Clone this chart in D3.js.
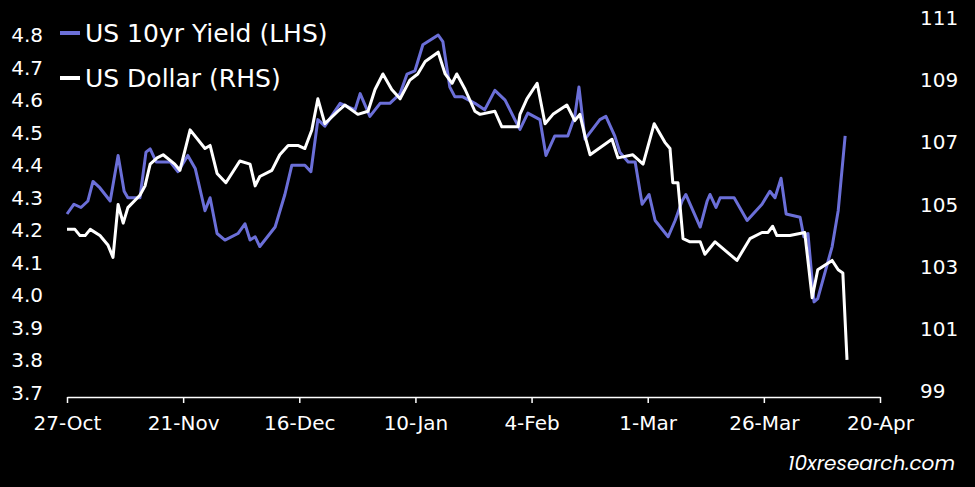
<!DOCTYPE html>
<html><head><meta charset="utf-8">
<script src="https://cdn.jsdelivr.net/npm/d3@7"></script>
<style>body{margin:0;background:#000}svg{display:block}</style>
</head><body>
<script>
// 横轴：自 27-Oct 起的天数
const tickLabels = ["27-Oct","21-Nov","16-Dec","10-Jan","4-Feb","1-Mar","26-Mar","20-Apr"];
const yieldDays = [0,1.5,3,4.5,5.6,7.1,9.3,11,12.3,13.1,15.7,17,17.9,19.2,22.2,23.9,26,27.6,29.7,30.8,32.3,34,36.8,38.3,39.4,40.5,41.5,44.8,46.9,48.4,51.2,52.5,54,55.5,58.8,62,63.1,65.2,67.4,69.5,71.7,73.2,74.9,76.6,79.9,80.9,82.4,83.5,85.2,87.8,89.9,92.1,94.3,96.4,97.5,99.2,101.8,103.1,105,107.8,109.3,110.2,111.5,114.7,116,117.9,119,120.8,122.3,123.8,125.3,126.6,129.4,130.9,132.4,133.2,136.3,137.8,138.4,139.7,140.6,143.6,146.4,149.6,151.3,152.4,153.7,154.8,157.8,158.6,159.5,160.8,161.6,164.7,166,167.5];
const yieldVals = [4.25,4.28,4.27,4.29,4.35,4.33,4.29,4.43,4.32,4.30,4.30,4.44,4.45,4.41,4.41,4.38,4.43,4.39,4.26,4.30,4.19,4.17,4.19,4.22,4.17,4.18,4.15,4.21,4.31,4.40,4.40,4.38,4.54,4.52,4.59,4.57,4.62,4.55,4.59,4.59,4.62,4.68,4.69,4.77,4.80,4.78,4.64,4.61,4.61,4.59,4.57,4.63,4.60,4.54,4.51,4.56,4.54,4.43,4.49,4.49,4.55,4.64,4.48,4.54,4.55,4.49,4.44,4.41,4.41,4.28,4.31,4.23,4.18,4.23,4.29,4.31,4.21,4.29,4.31,4.27,4.30,4.30,4.23,4.28,4.32,4.30,4.36,4.25,4.24,4.18,4.19,3.98,3.99,4.15,4.26,4.49];
const dollarDays = [0,1.7,2.8,3.9,5,7.1,8.8,9.9,11,12.1,13.1,15.7,16.8,17.9,19.4,20.7,23.2,24.3,26.5,29.7,30.8,32.3,34.2,37.2,39.4,40.5,41.5,44.1,45.8,47.6,49.7,51.2,52.7,54,55.5,58.3,59.8,62.6,64.8,66.3,68,69.9,71.7,73.8,75.5,77.1,79.9,81.4,82.9,83.9,85.7,87.8,88.9,92.1,93.6,97.1,97.5,99,101.2,102.9,104.6,107.6,109.3,110.4,111.5,112.6,117.3,118.6,121.8,124,126.4,128.7,129.8,130.4,131.5,132.6,134.1,136.3,137.3,139.5,144.2,147,149.6,150.9,151.9,152.8,155.6,158.8,160.4,161.6,164.7,166,167,167.9];
const dollarVals = [104.2,104.2,104.0,104.0,104.2,104.0,103.7,103.3,105.0,104.4,104.9,105.3,105.6,106.3,106.5,106.6,106.3,106.1,107.4,106.8,106.9,106.0,105.7,106.4,106.3,105.6,105.9,106.1,106.6,106.9,106.9,106.8,107.4,108.4,107.6,108.0,108.2,107.9,108.0,108.7,109.2,108.7,108.4,109.0,109.2,109.6,109.9,109.2,108.9,109.2,108.7,108.0,107.9,108.0,107.5,107.5,107.9,108.4,108.9,107.6,107.9,108.2,107.7,107.9,107.2,106.6,107.1,106.5,106.6,106.3,107.6,107.0,106.8,105.7,105.7,103.9,103.8,103.8,103.4,103.8,103.2,103.9,104.1,104.1,104.3,104.0,104.0,104.1,102.0,102.9,103.2,102.9,102.8,100.0];
const leftTicks = [3.7,3.8,3.9,4.0,4.1,4.2,4.3,4.4,4.5,4.6,4.7,4.8];
const rightTicks = [99,101,103,105,107,109,111];

const W = 975, H = 487;
const font = "'DejaVu Sans', sans-serif";
const svg = d3.select("body").append("svg").attr("width", W).attr("height", H)
  .style("background", "#000").style("font-family", font);

const x = d3.scaleLinear().domain([0, 175]).range([67, 880]);
const yL = d3.scaleLinear().domain([3.7, 4.8]).range([393, 35]);
const yR = d3.scaleLinear().domain([99, 111]).range([391, 18]);

// X轴
const xAxis = svg.append("g").attr("transform", "translate(0,397)")
  .call(d3.axisBottom(x).tickValues(d3.range(0, 176, 25))
    .tickFormat((d, i) => tickLabels[i]).tickSize(6).tickSizeOuter(0));
xAxis.select(".domain").attr("stroke", "#fff").attr("stroke-width", 1.5);
xAxis.selectAll(".tick line").attr("stroke", "#fff").attr("stroke-width", 1.5);
xAxis.selectAll("text").attr("fill", "#fff").style("font-family", font).style("font-size", "20px").attr("dy", "1.2em");

// 左轴 / 右轴（只有文字）
svg.append("g").selectAll("text").data(leftTicks).join("text")
  .attr("x", 43).attr("y", d => yL(d)).attr("dy", "0.35em").attr("text-anchor", "end")
  .attr("fill", "#fff").style("font-size", "20px").text(d => d.toFixed(1));
svg.append("g").selectAll("text").data(rightTicks).join("text")
  .attr("x", 920).attr("y", d => yR(d)).attr("dy", "0.35em")
  .attr("fill", "#fff").style("font-size", "20px").text(d => d);

const lineL = d3.line().x(d => x(d[0])).y(d => yL(d[1]));
const lineR = d3.line().x(d => x(d[0])).y(d => yR(d[1]));
svg.append("path").datum(d3.zip(yieldDays, yieldVals)).attr("d", lineL)
  .attr("fill", "none").attr("stroke", "#6b6fd8").attr("stroke-width", 3).attr("stroke-linejoin", "round");
svg.append("path").datum(d3.zip(dollarDays, dollarVals)).attr("d", lineR)
  .attr("fill", "none").attr("stroke", "#fff").attr("stroke-width", 3).attr("stroke-linejoin", "round");

// 图例
const legend = [["US 10yr Yield (LHS)", "#6b6fd8", 33], ["US Dollar (RHS)", "#fff", 78]];
legend.forEach(([t, c, y]) => {
  svg.append("line").attr("x1", 60).attr("x2", 80).attr("y1", y).attr("y2", y)
    .attr("stroke", c).attr("stroke-width", 4);
  svg.append("text").attr("x", 85).attr("y", y).attr("dy", "0.35em")
    .attr("fill", "#fff").style("font-size", "25px").text(t);
});

svg.append("text").attr("x", 955).attr("y", 470).attr("text-anchor", "end")
  .attr("fill", "#fff").style("font-family", "Poppins, sans-serif")
  .style("font-size", "20px").style("font-style", "italic").text("10xresearch.com");
</script>
</body></html>
